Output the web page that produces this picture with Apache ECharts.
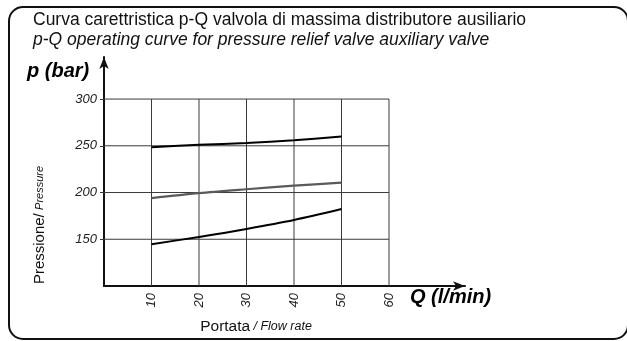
<!DOCTYPE html>
<html>
<head>
<meta charset="utf-8">
<script src="https://cdn.jsdelivr.net/npm/echarts@6/dist/echarts.min.js"></script>
<style>
  html, body { margin: 0; padding: 0; background: #fff; }
  #chart { width: 627px; height: 341px; }
</style>
</head>
<body>
<div id="chart"></div>
<script>
// Flow rate Q (l/min) sample points and pressure p (bar) for the three curves
const flowRates = [10, 20, 30, 40, 50];
const upperCurve = [248.5, 251, 253, 256, 260];
const middleCurve = [194, 199.3, 203.5, 207.4, 210.5];
const lowerCurve = [144.7, 152.5, 161, 170.6, 182.3];

// Tick labels
const xTicks = [10, 20, 30, 40, 50, 60];
const yTicks = [150, 200, 250, 300];

const X_MIN = 0, X_MAX = 76, Y_MIN = 100, Y_MAX = 345;
const GRID_X_END = 60, GRID_Y_END = 300;

const FONT = 'Liberation Sans';

function pairs(xs, ys) { return xs.map((x, i) => [x, ys[i]]); }

// Grid lines drawn as plain line segments limited to the 0-60 / 100-300 box
const gridSeries = [];
xTicks.forEach(x => gridSeries.push({
  type: 'line', data: [[x, Y_MIN], [x, GRID_Y_END]], symbol: 'none', silent: true,
  lineStyle: { color: '#3a3a3a', width: 1 }, z: 1
}));
yTicks.forEach(y => gridSeries.push({
  type: 'line', data: [[X_MIN, y], [GRID_X_END, y]], symbol: 'none', silent: true,
  lineStyle: { color: '#3a3a3a', width: 1 }, z: 1
}));

const chart = echarts.init(document.getElementById('chart'), null, { renderer: 'canvas' });
chart.setOption({
  animation: false,
  backgroundColor: '#fff',
  grid: { left: 104, right: 162, top: 57, bottom: 55, containLabel: false },
  xAxis: {
    type: 'value', min: X_MIN, max: X_MAX,
    axisLine: { show: true, symbol: ['none', 'arrow'], symbolSize: [7, 12],
      lineStyle: { color: '#111', width: 2 } },
    axisTick: { show: false },
    splitLine: { show: false },
    axisLabel: { customValues: xTicks, rotate: 90, margin: 7,
      fontFamily: FONT, fontStyle: 'italic', fontSize: 13, color: '#222' }
  },
  yAxis: {
    type: 'value', min: Y_MIN, max: Y_MAX,
    axisLine: { show: true, symbol: ['none', 'arrow'], symbolSize: [7, 12],
      lineStyle: { color: '#111', width: 2 } },
    axisTick: { show: true, customValues: yTicks, length: 4, lineStyle: { color: '#333' } },
    splitLine: { show: false },
    axisLabel: { customValues: yTicks, margin: 7,
      fontFamily: FONT, fontStyle: 'italic', fontSize: 13, color: '#222' }
  },
  series: gridSeries.concat([
    { type: 'line', data: pairs(flowRates, upperCurve), smooth: 0.3, symbol: 'none',
      lineStyle: { color: '#000', width: 2 }, z: 3 },
    { type: 'line', data: pairs(flowRates, middleCurve), smooth: 0.3, symbol: 'none',
      lineStyle: { color: '#5a5a5a', width: 2.2 }, z: 3 },
    { type: 'line', data: pairs(flowRates, lowerCurve), smooth: 0.3, symbol: 'none',
      lineStyle: { color: '#000', width: 2 }, z: 3 }
  ]),
  graphic: [
    { type: 'rect', shape: { x: 9, y: 7, width: 619, height: 332, r: 14 },
      style: { fill: 'none', stroke: '#111', lineWidth: 2 }, z: 0 },
    { type: 'text', left: 33, top: 11,
      style: { text: 'Curva carettristica p-Q valvola di massima distributore ausiliario',
        font: '17.5px "' + FONT + '"', fill: '#111' } },
    { type: 'text', left: 33, top: 31,
      style: { text: 'p-Q operating curve for pressure relief valve auxiliary valve',
        font: 'italic 17.5px "' + FONT + '"', fill: '#111' } },
    { type: 'text', left: 27, top: 61,
      style: { text: 'p (bar)', font: 'italic bold 20px "' + FONT + '"', fill: '#000' } },
    { type: 'text', left: 410, top: 287,
      style: { text: 'Q (l/min)', font: 'italic bold 20px "' + FONT + '"', fill: '#000' } },
    { type: 'text', x: 32, y: 225, rotation: Math.PI / 2, z: 5,
      style: { text: '{a|Pressione/} {b|Pressure}', align: 'center', verticalAlign: 'top',
        rich: {
          a: { fontFamily: FONT, fontSize: 15, fill: '#111' },
          b: { fontFamily: FONT, fontSize: 11, fontStyle: 'italic', fill: '#111' }
        } } },
    { type: 'text', x: 256, y: 327, z: 5,
      style: { text: '{a|Portata} {b|/ Flow rate}', align: 'center', verticalAlign: 'middle',
        rich: {
          a: { fontFamily: FONT, fontSize: 15.5, fill: '#111' },
          b: { fontFamily: FONT, fontSize: 12.5, fontStyle: 'italic', fill: '#111' }
        } } }
  ]
});
</script>
</body>
</html>
